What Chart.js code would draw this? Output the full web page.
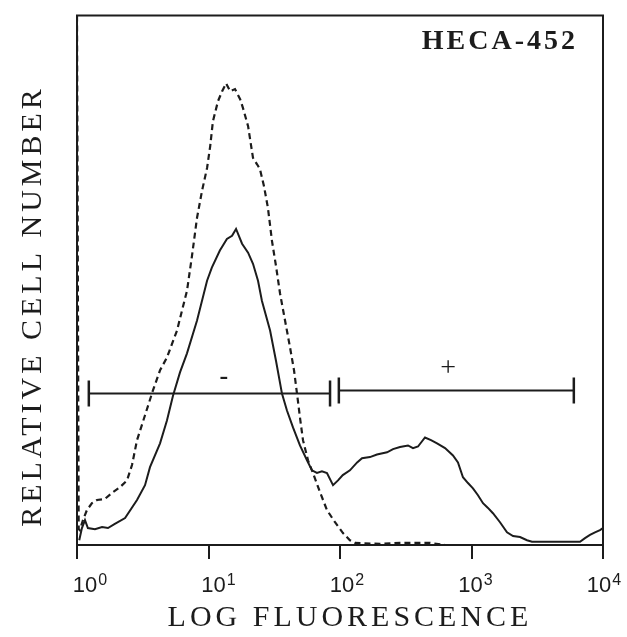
<!DOCTYPE html>
<html>
<head>
<meta charset="utf-8">
<script src="https://cdn.jsdelivr.net/npm/chart.js@4.4.0/dist/chart.umd.min.js"></script>
<style>
  html, body { margin: 0; padding: 0; background: #fff; }
</style>
</head>
<body>
<canvas id="histChart" width="627" height="637"></canvas>
<script>
// isotype control (dashed) - fluorescence channel vs relative count
const controlFluor = [1, 1.03, 1.05, 1.11, 1.19, 1.30, 1.42, 1.63, 1.88, 2.12,
  2.40, 2.62, 2.86, 3.29, 3.78, 4.28, 4.83, 5.28, 5.76, 6.29,
  6.86, 7.49, 8.18, 8.93, 9.75, 10.3, 10.8, 11.8, 12.7, 13.6,
  14.6, 15.9, 17.4, 18.3, 20.0, 21.8, 23.4, 24.6, 26.4, 28.3,
  30.4, 32.6, 35.0, 38.2, 41.7, 44.7, 47.1, 49.6, 52.3, 57.1,
  62.3, 70.4, 79.6, 91.6, 105, 119, 130, 201, 286, 484, 630];
const controlCount = [100, 3.0, 2.8, 4.7, 6.6, 7.9, 8.5, 8.7, 10.0, 10.9,
  12.2, 15.1, 19.8, 24.5, 29.2, 33.0, 35.4, 38.0, 40.5, 44.3,
  48.0, 54.6, 61.8, 66.9, 71.2, 75.3, 80.0, 83.8, 85.7, 87.2,
  85.7, 86.1, 84.2, 82.5, 79.1, 73.1, 71.9, 71.0, 67.8, 63.7,
  57.4, 52.7, 47.5, 42.4, 37.3, 33.0, 28.6, 24.1, 19.8, 16.0,
  13.6, 10.0, 6.6, 4.3, 2.3, 0.9, 0.4, 0.2, 0.4, 0.4, 0];

// HECA-452 stained cells (solid)
const hecaFluor = [1.04, 1.09, 1.15, 1.21, 1.37, 1.55, 1.72, 1.94, 2.32, 2.86,
  3.29, 3.59, 4.28, 4.83, 5.37, 6.07, 6.86, 8.18, 9.75, 10.6,
  12.2, 13.8, 15.1, 16.2, 18.0, 20.0, 21.8, 23.8, 25.5, 29.4,
  32.6, 36.2, 39.5, 43.9, 49.6, 56.1, 61.2, 66.8, 72.9, 79.6,
  88.5, 96.6, 105, 119, 135, 147, 169, 191, 228, 253,
  286, 329, 359, 392, 443, 492, 547, 629, 723, 789,
  861, 940, 1026, 1120, 1223, 1334, 1456, 1647, 1862, 2070,
  2339, 2643, 2884, 6683, 7295, 7962, 8690, 9485, 10000];
const hecaCount = [0.9, 3.2, 4.7, 3.2, 3.0, 3.4, 3.2, 4.0, 5.1, 8.5,
  11.3, 14.7, 19.2, 23.5, 28.2, 32.6, 36.2, 42.4, 49.9, 52.4,
  55.6, 57.8, 58.4, 59.7, 56.9, 55.2, 53.1, 49.9, 46.1, 40.5,
  34.8, 28.6, 25.4, 22.2, 18.8, 16.0, 14.1, 13.6, 13.9, 13.6,
  11.3, 12.2, 13.2, 14.1, 15.6, 16.4, 16.6, 17.1, 17.5, 18.1,
  18.5, 18.8, 18.3, 18.6, 20.3, 19.8, 19.2, 18.3, 16.9, 15.6,
  12.8, 11.7, 10.7, 9.4, 7.9, 7.0, 6.0, 4.3, 2.4, 1.7,
  1.5, 0.9, 0.6, 0.6, 1.3, 1.9, 2.4, 2.8, 3.2];

// gates
const negGateX = [1.23, 84];
const negGateY = [28.6, 28.6];
const posGateX = [98, 6000];
const posGateY = [29.2, 29.2];
const gateLabels = ['-', '+'];
const gateLabelX = [13.1, 663];
const gateLabelY = [31.6, 33.3];

const decadeTicks = [1, 10, 100, 1000, 10000];

const ink = '#1c1c1c';
const serif = '"Liberation Serif", "Times New Roman", serif';
const sans = '"Liberation Sans", Arial, sans-serif';

function pts(xs, ys) {
    return xs.map((x, i) => ({ x: x, y: ys[i] }));
}

// frame, tick labels, titles and gate labels
const decorPlugin = {
    id: 'decor',
    afterDraw(chart) {
        const { ctx, chartArea: a } = chart;
        const xs = chart.scales.x, ys = chart.scales.y;
        ctx.save();
        ctx.strokeStyle = ink;
        ctx.lineWidth = 2;
        ctx.beginPath();
        ctx.moveTo(a.left, a.bottom);
        ctx.lineTo(a.left, a.top);
        ctx.lineTo(a.right, a.top);
        ctx.lineTo(a.right, a.bottom);
        ctx.stroke();

        ctx.fillStyle = ink;
        ctx.textBaseline = 'alphabetic';
        ctx.textAlign = 'left';
        decadeTicks.forEach((v, i) => {
            const px = xs.getPixelForValue(v);
            ctx.font = '22px ' + sans;
            const w = ctx.measureText('10').width;
            const left = px - w / 2 + 8 - 3 * i;
            ctx.fillText('10', left, 592);
            ctx.font = '16px ' + sans;
            ctx.fillText(String(Math.round(Math.log10(v))), left + w + 1, 585);
        });

        // axis titles
        ctx.letterSpacing = '4px';
        ctx.font = '30px ' + serif;
        ctx.textAlign = 'center';
        ctx.fillText('LOG FLUORESCENCE', (a.left + a.right) / 2 + 10, 626);

        ctx.save();
        ctx.translate(41, 306);
        ctx.rotate(-Math.PI / 2);
        ctx.fillText('RELATIVE CELL NUMBER', 0, 0);
        ctx.restore();

        ctx.letterSpacing = '3px';
        ctx.font = 'bold 28px ' + serif;
        ctx.textAlign = 'right';
        ctx.fillText('HECA-452', 578, 49);

        // gate labels
        ctx.letterSpacing = '0px';
        ctx.textAlign = 'center';
        ctx.textBaseline = 'middle';
        gateLabels.forEach((t, i) => {
            ctx.font = (t === '-' ? 'bold 26px ' : '28px ') + serif;
            ctx.fillText(t, xs.getPixelForValue(gateLabelX[i]), ys.getPixelForValue(gateLabelY[i]));
        });
        ctx.restore();
    }
};

const gateStyle = {
    borderColor: ink,
    borderWidth: 2,
    pointStyle: 'line',
    rotation: 90,
    pointRadius: 13,
    pointBorderWidth: 2.5,
    pointBorderColor: ink,
    fill: false
};

new Chart(document.getElementById('histChart').getContext('2d'), {
    type: 'line',
    data: {
        datasets: [{
            label: 'Control',
            data: pts(controlFluor, controlCount),
            borderColor: ink,
            borderWidth: 2.2,
            borderDash: [6, 4],
            pointRadius: 0,
            tension: 0,
            fill: false
        }, {
            label: 'HECA-452',
            data: pts(hecaFluor, hecaCount),
            borderColor: ink,
            borderWidth: 2,
            pointRadius: 0,
            tension: 0,
            fill: false
        },
        Object.assign({ label: 'neg gate', data: pts(negGateX, negGateY) }, gateStyle),
        Object.assign({ label: 'pos gate', data: pts(posGateX, posGateY) }, gateStyle)
        ]
    },
    options: {
        responsive: false,
        animation: false,
        events: [],
        layout: { padding: { left: 77, right: 24, top: 14, bottom: 78 } },
        plugins: {
            legend: { display: false },
            tooltip: { enabled: false }
        },
        scales: {
            x: {
                type: 'logarithmic',
                min: 1,
                max: 10000,
                afterBuildTicks: axis => {
                    axis.ticks = decadeTicks.map(v => ({ value: v }));
                },
                ticks: { display: false },
                grid: {
                    display: true,
                    drawOnChartArea: false,
                    drawTicks: true,
                    tickLength: 14,
                    color: ink,
                    lineWidth: 2
                },
                border: { display: true, color: ink, width: 2 }
            },
            y: {
                display: false,
                min: 0,
                max: 100
            }
        }
    },
    plugins: [decorPlugin]
});
</script>
</body>
</html>
